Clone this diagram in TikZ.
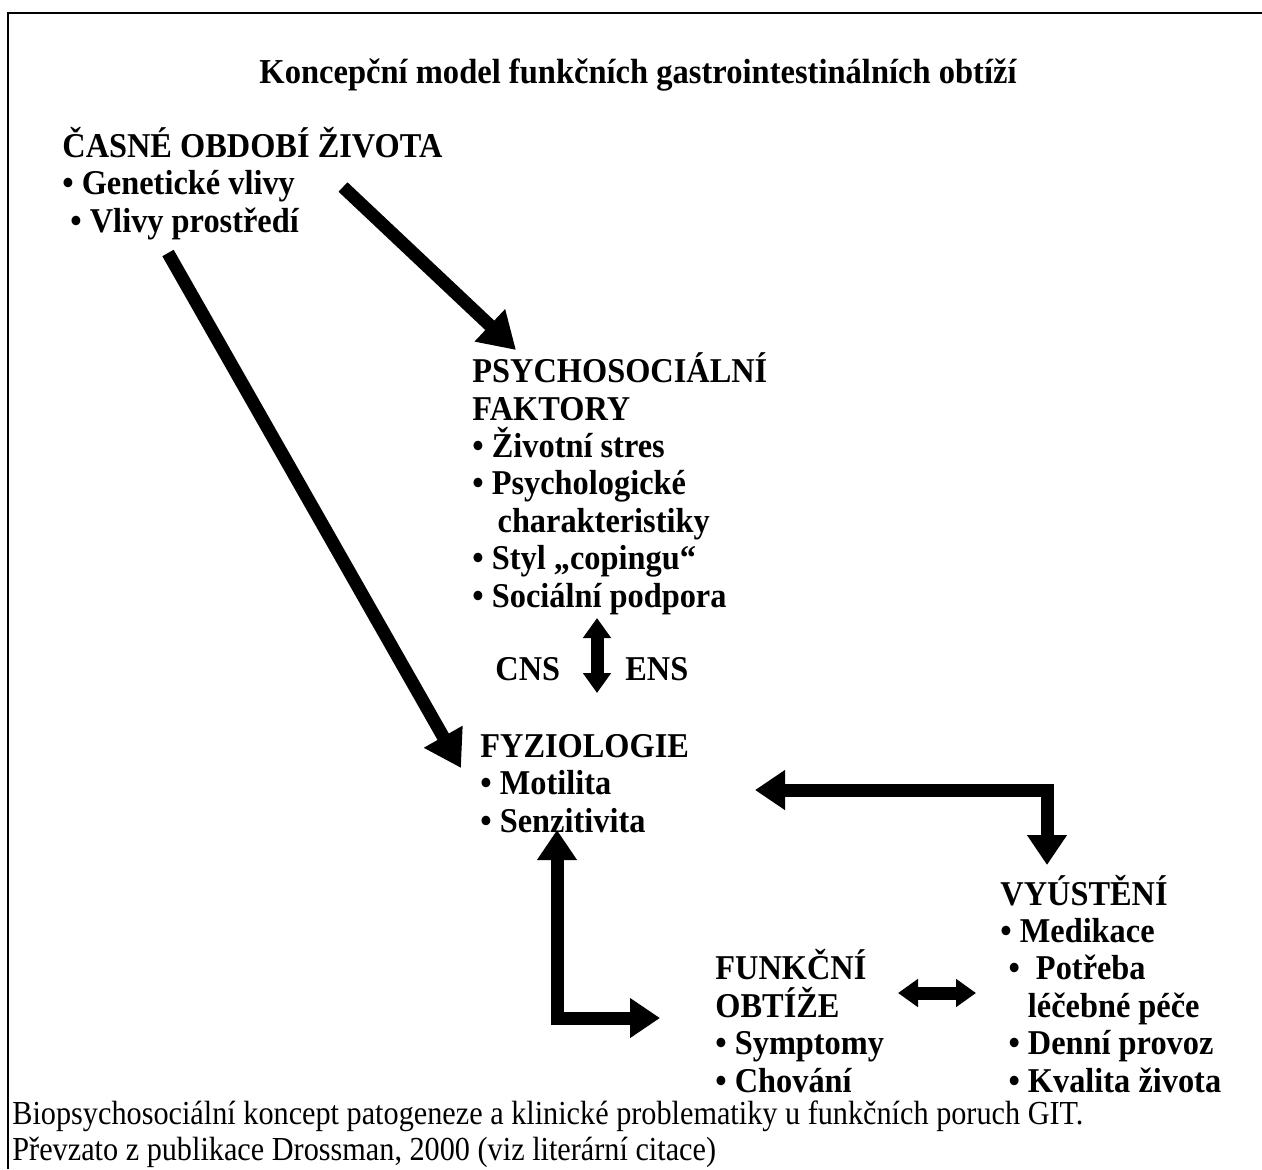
\documentclass[tikz,border=0pt]{standalone}
\usepackage{fontspec}
\setmainfont{Liberation Serif}
\newfontfamily\blokfont[FakeStretch=0.93]{Liberation Serif}
\newfontfamily\popisfont[FakeStretch=0.9]{Liberation Serif}
\usetikzlibrary{arrows.meta,positioning}

\begin{document}
\begin{tikzpicture}[
        x=0.5pt, y=-0.5pt,
        blok/.style={anchor=base west, align=left, inner sep=0pt,
          font=\blokfont\bfseries\fontsize{17.4}{18.7}\selectfont},
        velka/.style={line width=6.5pt, line join=miter,
          -{Triangle[width=21pt,length=18pt]}},
        obousmer/.style={line width=6.5pt, line join=miter,
          {Triangle[width=19pt,length=15pt]}-{Triangle[width=19pt,length=15pt]}},
        mala/.style={line width=6.5pt,
          {Triangle[width=13.5pt,length=10pt]}-{Triangle[width=13.5pt,length=10pt]}}
      ]
      \useasboundingbox (0,0) rectangle (1262,1169);
      \draw[line width=1.2pt] (8,1169) -- (8,13) -- (1262,13);

      \node (title) [anchor=base, inner sep=0pt,
        font=\blokfont\bfseries\fontsize{17.5}{18}\selectfont]
        at (638,83) {Koncepční model funkčních gastrointestinálních obtíží};

      % bloky: souradnice = uckari posledniho radku
      \node (early) [blok] at (62,232) {ČASNÉ OBDOBÍ ŽIVOTA\\
        \textbullet\ Genetické vlivy\\
        \ \textbullet\ Vlivy prostředí};
      \node (psy) [blok] at (472,607) {PSYCHOSOCIÁLNÍ\\
        FAKTORY\\
        \textbullet\ Životní stres\\
        \textbullet\ Psychologické\\
        \phantom{\textbullet}\ \,charakteristiky\\
        \textbullet\ Styl „copingu“\\
        \textbullet\ Sociální podpora};
      \node (cns) [blok] at (495,680) {CNS};
      \node (ens) [blok] at (625,680) {ENS};
      \node (fyz) [blok] at (480,832) {FYZIOLOGIE\\
        \textbullet\ Motilita\\
        \textbullet\ Senzitivita};
      \node (fun) [blok] at (715,1092) {FUNKČNÍ\\
        OBTÍŽE\\
        \textbullet\ Symptomy\\
        \textbullet\ Chování};
      \node (vyu) [blok] at (1000,1092) {VYÚSTĚNÍ\\
        \textbullet\ Medikace\\
        \ \textbullet\ \ Potřeba\\
        \phantom{\textbullet}\ \ léčebné péče\\
        \ \textbullet\ Denní provoz\\
        \ \textbullet\ Kvalita života};

      \node (popis) [anchor=base west, align=left, inner sep=0pt,
        font=\popisfont\fontsize{16.8}{18}\selectfont] at (12,1160)
        {Biopsychosociální koncept patogeneze a klinické problematiky u funkčních poruch GIT.\\
         Převzato z publikace Drossman, 2000 (viz literární citace)};

      % konce sipek
      \coordinate (e1) at (343,187);
      \coordinate (p1) at (516,350);
      \coordinate (e2) at (168,253);
      \coordinate (f2) at (461,768);
      \coordinate (ph) at (597,618);
      \coordinate (fd) at (597,693);
      \coordinate (fr) at (755,790);
      \coordinate (roh) at (1047,790);
      \coordinate (vh) at (1047,865);
      \coordinate (fs) at (557,830);
      \coordinate (lroh) at (557,1018);
      \coordinate (fl) at (660,1018);
      \coordinate (fp) at (898,993);
      \coordinate (vl) at (976,993);

      \draw[velka] (e1) -- (p1);
      \draw[velka] (e2) -- (f2);
      \draw[mala] (ph) -- (fd);
      \draw[obousmer] (fr) -- (roh) -- (vh);
      \draw[obousmer] (fs) -- (lroh) -- (fl);
      \draw[mala] (fp) -- (vl);

    \end{tikzpicture}
\end{document}
